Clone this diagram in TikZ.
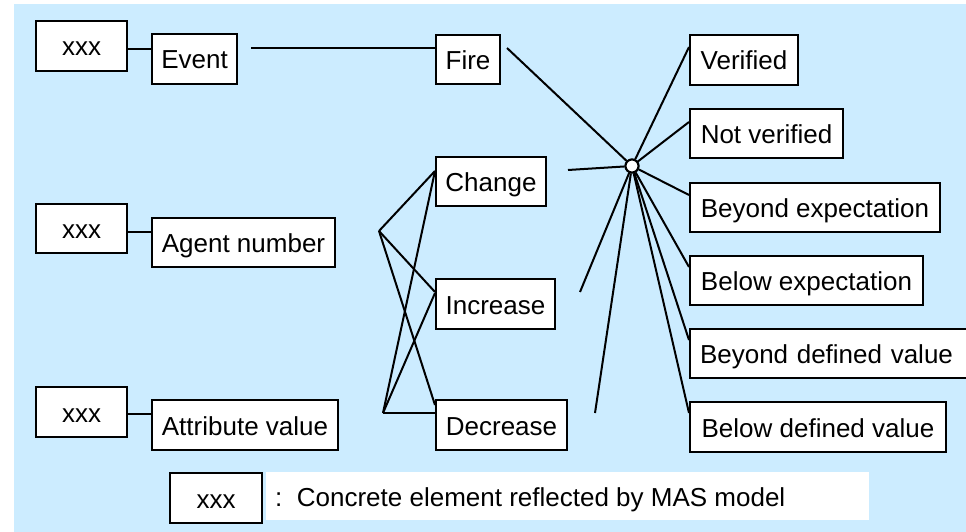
\documentclass[tikz,border=0pt]{standalone}
\usepackage{fontspec}
\setmainfont{Liberation Sans}
\usetikzlibrary{calc}
\definecolor{panelblue}{RGB}{204,236,255}
\begin{document}
\begin{tikzpicture}[x=1pt,y=-1pt,
  lbl/.style={draw=black, fill=white, line width=2pt, inner sep=0pt,
    anchor=north west, font=\fontsize{26}{30}\selectfont,
    text height=20pt, text depth=0pt},
  link/.style={draw=black, line width=2pt},
  hubdot/.style={circle, draw=black, fill=white, inner sep=0pt,
    minimum size=13pt, line width=2pt}]

% panel and page size
\useasboundingbox (0,0) rectangle (966,532);
\fill[panelblue] (14,4) rectangle (966,532);

% concrete elements and their categories
\node[lbl, minimum width=91pt, minimum height=50pt] (xa) at (35,20) {xxx};
\node[lbl, minimum width=85pt, minimum height=50pt] (ev) at (151,33) {Event};
\node[lbl, minimum width=91pt, minimum height=49pt] (xb) at (35,203) {xxx};
\node[lbl, minimum width=183pt, minimum height=49pt] (ag) at (151,217) {Agent number};
\node[lbl, minimum width=91pt, minimum height=50pt] (xc) at (35,386) {xxx};
\node[lbl, minimum width=186pt, minimum height=50pt] (at) at (151,399) {Attribute value};

% kinds of occurrence
\node[lbl, minimum width=64pt, minimum height=49pt] (fi) at (435,34) {Fire};
\node[lbl, minimum width=110pt, minimum height=49pt] (ch) at (435,156) {Change};
\node[lbl, minimum width=119pt, minimum height=50pt] (in) at (435,278) {Increase};
\node[lbl, minimum width=131pt, minimum height=50pt] (de) at (435,399) {Decrease};

% judgements
\node[lbl, minimum width=108pt, minimum height=50pt] (v1) at (689,34) {Verified};
\node[lbl, minimum width=153pt, minimum height=49pt] (v2) at (689,108) {Not verified};
\node[lbl, minimum width=250pt, minimum height=49pt] (v3) at (689,182) {Beyond expectation};
\node[lbl, minimum width=233pt, minimum height=49pt] (v4) at (689,255) {Below expectation};
\node[lbl, inner xsep=10pt, text width=265pt, align=left, minimum height=49pt] (v5) at (689,328) {Beyond defined value};
\node[lbl, minimum width=256pt, minimum height=50pt] (v6) at (689,401) {Below defined value};

% joining point
\node[hubdot] (hub) at (632,166) {};

% element to category
\draw[link] ([yshift=-3pt]xa.east) -- ([yshift=-3pt]xa.east -| ev.west);
\draw[link] ([yshift=-3pt]xb.east) -- ([yshift=-3pt]xb.east -| ag.west);
\draw[link] ([yshift=-2pt]xc.east) -- ([yshift=-2pt]xc.east -| at.west);

% category to occurrence
\coordinate (evgap) at (251,48);
\draw[link] (evgap) -- (evgap -| fi.west);
\coordinate (fa) at (379,231);
\coordinate (fb) at (383,413);
\draw[link] (fa) -- ($(ch.north west)+(0,15)$);
\draw[link] (fa) -- ($(in.north west)+(0,14)$);
\draw[link] (fa) -- ($(de.north west)+(0,6)$);
\draw[link] (fb) -- ($(ch.north west)+(0,15)$);
\draw[link] (fb) -- ($(in.north west)+(0,15)$);
\draw[link] (fb) -- (fb -| de.west);

% occurrence to joining point
\coordinate (hf) at (507,48);
\coordinate (hc) at (568,170);
\coordinate (hi) at (580,292);
\coordinate (hd) at (595,413);
\draw[link] (hf) -- (hub);
\draw[link] (hc) -- (hub);
\draw[link] (hi) -- (hub);
\draw[link] (hd) -- (hub);

% joining point to judgements
\draw[link] (hub) -- ($(v1.north west)+(0,13)$);
\draw[link] (hub) -- ($(v2.north west)+(0,14)$);
\draw[link] (hub) -- ($(v3.north west)+(0,13)$);
\draw[link] (hub) -- ($(v4.north west)+(0,12)$);
\draw[link] (hub) -- ($(v5.north west)+(0,12)$);
\draw[link] (hub) -- ($(v6.north west)+(0,12)$);
\node[hubdot] at (hub) {};

% legend
\node[lbl, minimum width=92pt, minimum height=50pt] (lx) at (169,472) {xxx};
\node[fill=white, inner sep=0pt, anchor=north west, minimum width=603pt,
  minimum height=48pt] (lg) at (266,472) {};
\node[anchor=base west, inner sep=0pt, font=\fontsize{26}{30}\selectfont] (lt)
  at ($(lg.north west)+(9,34)$) {:\ \ Concrete element reflected by MAS model};
\end{tikzpicture}
\end{document}
